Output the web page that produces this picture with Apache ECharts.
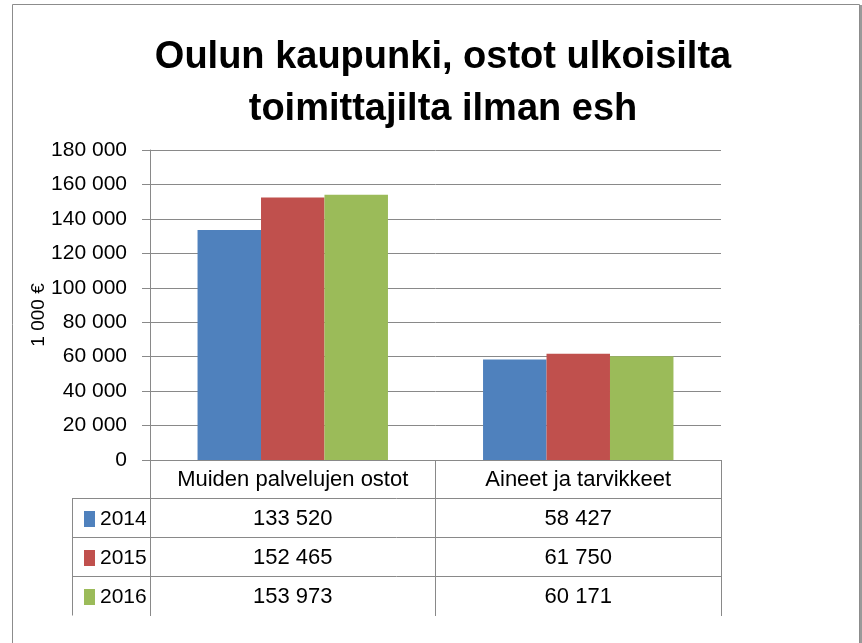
<!DOCTYPE html>
<html>
<head>
<meta charset="utf-8">
<script src="https://cdn.jsdelivr.net/npm/echarts@6/dist/echarts.min.js"></script>
<style>
  html, body { margin: 0; padding: 0; background: #fff; }
  #chart { width: 862px; height: 643px; }
</style>
</head>
<body>
<div id="chart"></div>
<script>
// data
const categories = ["Muiden palvelujen ostot", "Aineet ja tarvikkeet"];
const years = ["2014", "2015", "2016"];
const values2014 = [133520, 58427];
const values2015 = [152465, 61750];
const values2016 = [153973, 60171];
const yTicks = [0, 20000, 40000, 60000, 80000, 100000, 120000, 140000, 160000, 180000];

const seriesValues = [values2014, values2015, values2016];
const colors = ["#4F81BD", "#C0504D", "#9BBB59"];
const font = "'Liberation Sans', Arial, sans-serif";
const gray = "#898989";

// 133520 -> "133 520"
function fmt(v) {
  return String(v).replace(/\B(?=(\d{3})+(?!\d))/g, " ");
}

// table layout (grid left/right/axis y)
const gLeft = 150, gRight = 721, gTop = 150, gBottom = 460;
const rowH = 39;
const tableLeft = 72;

const tableLines = [];
for (let i = 1; i <= years.length; i++) {
  const y = gBottom + rowH * i - 0.5;
  tableLines.push({
    type: "line",
    shape: { x1: tableLeft, y1: y, x2: gRight, y2: y },
    style: { stroke: gray, lineWidth: 1 },
  });
}
tableLines.push({
  type: "line",
  shape: { x1: tableLeft + 0.5, y1: gBottom + rowH - 0.5, x2: tableLeft + 0.5, y2: gBottom + rowH * 4 - 0.5 },
  style: { stroke: gray, lineWidth: 1 },
});

const option = {
  animation: false,
  color: colors,
  title: {
    text: "Oulun kaupunki, ostot ulkoisilta\ntoimittajilta ilman esh",
    left: 438,
    textAlign: "center",
    top: 27,
    textStyle: {
      fontFamily: font,
      fontWeight: "bold",
      fontSize: 38,
      lineHeight: 52,
      color: "#000",
    },
  },
  legend: {
    orient: "vertical",
    left: 79,
    top: gBottom + rowH + 4,
    itemGap: 17,
    itemWidth: 11,
    itemHeight: 16,
    icon: "rect",
    data: years,
    textStyle: { fontFamily: font, fontSize: 21, color: "#000", lineHeight: 22 },
  },
  grid: {
    left: gLeft,
    right: 862 - gRight,
    top: gTop,
    bottom: 643 - gBottom,
    containLabel: false,
  },
  xAxis: {
    type: "category",
    data: categories,
    axisLine: { show: true, lineStyle: { color: gray, width: 1 } },
    axisTick: { show: true, length: rowH * 4, lineStyle: { color: gray } },
    axisLabel: {
      margin: 0,
      interval: 0,
      verticalAlign: "top",
      formatter: function (value, idx) {
        let s = "{h|" + value + "}";
        seriesValues.forEach(function (arr) {
          s += "\n{v|" + fmt(arr[idx]) + "}";
        });
        return s;
      },
      rich: {
        h: { fontFamily: font, fontSize: 22, lineHeight: rowH, color: "#000" },
        v: { fontFamily: font, fontSize: 22, lineHeight: rowH, color: "#000" },
      },
    },
  },
  yAxis: {
    type: "value",
    min: 0,
    max: 180000,
    interval: 20000,
    name: "1 000 €",
    nameLocation: "middle",
    nameRotate: 90,
    nameGap: 102,
    nameMoveOverlap: false,
    nameTextStyle: { fontFamily: font, fontSize: 19, color: "#000", padding: [0, 20, 0, 0] },
    axisLine: { show: true, lineStyle: { color: gray } },
    axisTick: { show: true, length: 8, lineStyle: { color: gray } },
    axisLabel: {
      margin: 23,
      fontFamily: font,
      fontSize: 21,
      color: "#000",
      customValues: yTicks,
      formatter: function (v) { return fmt(v); },
    },
    splitLine: { show: true, lineStyle: { color: gray, width: 1 } },
  },
  series: years.map(function (y, i) {
    return {
      name: y,
      type: "bar",
      data: seriesValues[i],
      barGap: "0%",
      barCategoryGap: "33.3%",
      itemStyle: { color: colors[i] },
    };
  }),
  graphic: [
    {
      type: "rect",
      shape: { x: 12.5, y: 4.5, width: 847, height: 700 },
      style: { fill: "none", stroke: "#8c8c8c", lineWidth: 1 },
      z: 100,
    },
    {
      type: "line",
      shape: { x1: 861, y1: 5, x2: 861, y2: 643 },
      style: { stroke: "#9a9a9a", lineWidth: 2 },
      z: 100,
    },
  ].concat(tableLines),
};

const chart = echarts.init(document.getElementById("chart"));
chart.setOption(option);
</script>
</body>
</html>
